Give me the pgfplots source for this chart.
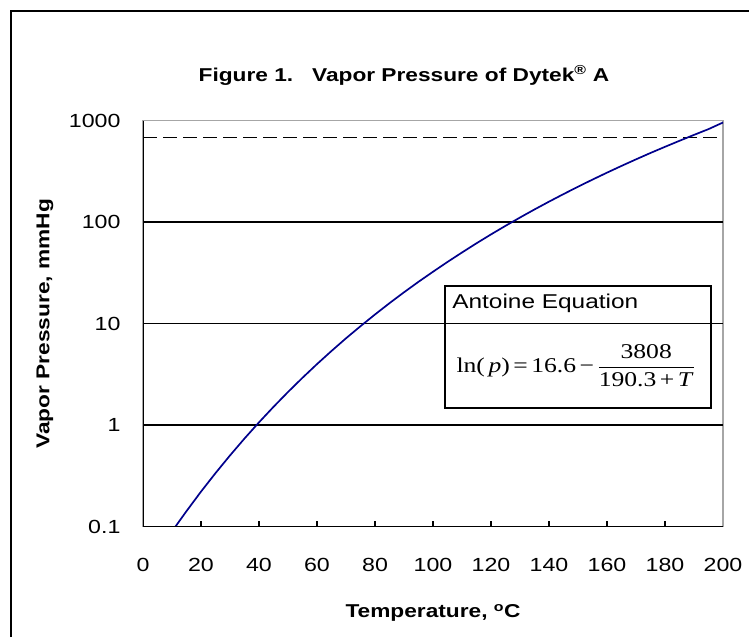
\documentclass[border=0pt]{standalone}
\usepackage{pgfplots}
\pgfplotsset{compat=1.18}
\usepackage{fontspec}
\setmainfont[FakeStretch=1.22]{Liberation Sans}
\newfontfamily\serif[FakeStretch=1.22]{Liberation Serif}
\definecolor{curve}{RGB}{0,0,140}
\begin{document}
\begin{tikzpicture}
\useasboundingbox (0pt,0pt) rectangle (749pt,637pt);
\draw[line width=2pt] (11pt,0pt) -- (11pt,626pt) -- (749pt,626pt);
\begin{axis}[
  at={(143pt,110.3pt)}, anchor=south west,
  width=580pt, height=406pt, scale only axis,
  ymode=log, xmin=0, xmax=200, ymin=0.1, ymax=1000,
  xtick={0,20,...,200},
  ytick={0.1,1,10,100,1000},
  yticklabels={0.1,1,10,100,1000},
  /pgf/number format/assume math mode=true,
  font=\fontsize{18.6}{22}\selectfont,
  tick label style={font=\fontsize{19}{22}\selectfont},
  xtick pos=bottom, ytick pos=left, tick align=inside,
  major tick length=6pt, minor tick length=0pt,
  ymajorticks=true, yminorticks=false,
  ytick style={draw=none},
  xtick style={black, line width=1.3pt},
  axis line style={gray!70, line width=1.3pt},
  xticklabel style={yshift=-28pt},
  yticklabel style={xshift=-19pt},
  title={\bfseries Figure 1.\ \ \ Vapor Pressure of Dytek\textsuperscript{\textregistered} A},
  title style={at={(axis description cs:0.45,1.097)}, anchor=center, font=\fontsize{18.6}{22}\selectfont},
  xlabel={\bfseries Temperature, \textsuperscript{o}C},
  xlabel style={at={(axis description cs:0.5,-0.212)}, anchor=center, font=\fontsize{18.6}{22}\selectfont},
  ylabel={\bfseries Vapor Pressure, mmHg},
  ylabel style={at={(axis description cs:-0.169,0.5)}, anchor=center, rotate=0, font=\fontsize{18.6}{22}\selectfont},
]
% horizontal grid lines
\addplot[black, line width=1.6pt] coordinates {(0,1) (200,1)};
\addplot[black, line width=1.6pt] coordinates {(0,10) (200,10)};
\addplot[black, line width=1.6pt] coordinates {(0,100) (200,100)};
% 1 atm dashed line
\addplot[black, line width=1.6pt, dash pattern=on 14pt off 6pt] coordinates {(0,685) (200,685)};
% vapor pressure curve
\addplot[curve, line width=1.7pt] coordinates {
(11,0.0986) (15,0.1424) (20,0.2216) (25,0.3372) (30,0.5036) (35,0.7393)
(40,1.067) (45,1.516) (50,2.124) (55,2.933) (60,4.000) (65,5.387)
(70,7.18) (75,9.45) (80,12.33) (85,15.93) (90,20.39) (95,25.87)
(100,32.5) (105,40.6) (110,50.3) (115,62.0) (120,75.8) (125,92.1)
(130,111.2) (135,133.5) (140,159.4) (145,189.2) (150,223.6) (155,262.9)
(160,307.7) (165,358.6) (170,416) (175,481) (180,553) (185,634)
(190,725) (195,826) (200,960)
};
% black left and bottom axis lines
\draw[black, line width=1.6pt] (rel axis cs:0,1) -- (rel axis cs:0,0) -- (rel axis cs:1,0);
% equation box
\draw[black, line width=1.6pt] (rel axis cs:0.5207,0.292) rectangle (rel axis cs:0.979,0.593);
\node[anchor=west, inner sep=0pt, font=\fontsize{20}{24}\selectfont] at (rel axis cs:0.533,0.551) {Antoine Equation};
\node[anchor=center, inner sep=0pt, font=\fontsize{21}{25}\selectfont] at (rel axis cs:0.746,0.396)
  {$\mbox{\serif ln(\,\textit{p})\,=\,16.6\,−\,}\displaystyle\frac{\mbox{\serif 3808}}{\mbox{\serif 190.3\,+\,\textit{T}}}$};
\end{axis}
\end{tikzpicture}
\end{document}
